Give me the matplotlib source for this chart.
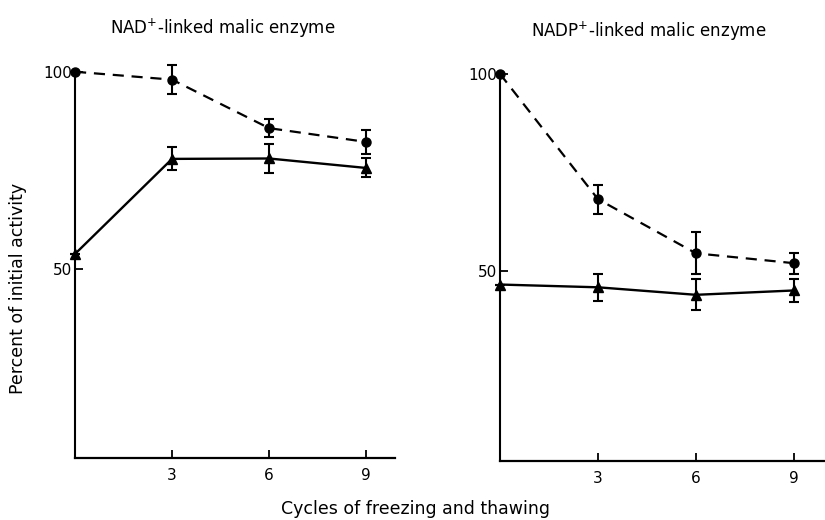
import matplotlib.pyplot as plt

cycles = [0, 3, 6, 9]

# NAD+-linked malic enzyme
nad_circle = [100, 98, 85.7, 82.2]
nad_circle_err = [0, 3.7, 2.2, 3.0]
nad_tri = [53.8, 77.9, 78.0, 75.6]
nad_tri_err = [0, 2.9, 3.6, 2.4]

# NADP+-linked malic enzyme
nadp_circle = [100, 68.3, 54.6, 52.1]
nadp_circle_err = [0, 3.7, 5.3, 2.7]
nadp_tri = [46.7, 46.0, 44.1, 45.2]
nadp_tri_err = [0, 3.4, 3.9, 2.8]

titles = ['NAD$^{+}$-linked malic enzyme', 'NADP$^{+}$-linked malic enzyme']

plt.rcParams['font.family'] = 'DejaVu Sans'

fig = plt.figure(figsize=(8.25, 5.2), dpi=100)
ax1 = fig.add_axes([0.091, 0.119, 0.388, 0.743])
ax2 = fig.add_axes([0.606, 0.113, 0.394, 0.745])


def panel(ax, circ, circ_err, tri, tri_err, xmax):
    ax.errorbar(cycles, circ, yerr=circ_err, color='black', ls='--', lw=1.6,
                marker='o', ms=6.5, capsize=3.5, elinewidth=1.5, capthick=1.5,
                dashes=(5, 3.5), clip_on=False, zorder=3)
    ax.errorbar(cycles, tri, yerr=tri_err, color='black', ls='-', lw=1.7,
                marker='^', ms=7, capsize=3.5, elinewidth=1.5, capthick=1.5,
                clip_on=False, zorder=3)
    ax.set_xlim(0, xmax)
    ax.set_ylim(2, 100)
    ax.set_xticks([3, 6, 9])
    ax.set_yticks([50, 100])
    ax.spines['top'].set_visible(False)
    ax.spines['right'].set_visible(False)
    ax.spines['left'].set_linewidth(1.5)
    ax.spines['bottom'].set_linewidth(1.6)
    ax.tick_params(direction='in', length=6, width=1.3, labelsize=11, pad=7)
    ax.tick_params(axis='y', pad=2)


panel(ax1, nad_circle, nad_circle_err, nad_tri, nad_tri_err, 9.9)
panel(ax2, nadp_circle, nadp_circle_err, nadp_tri, nadp_tri_err, 9.95)

fig.text(0.270, 0.945, titles[0], ha='center', va='center', fontsize=12)
fig.text(0.786, 0.94, titles[1], ha='center', va='center', fontsize=12)
fig.text(0.022, 0.445, 'Percent of initial activity', rotation=90,
         ha='center', va='center', fontsize=12.5)
fig.text(0.504, 0.022, 'Cycles of freezing and thawing', ha='center',
         va='center', fontsize=12.5)

fig.savefig('out.png', dpi=100)
